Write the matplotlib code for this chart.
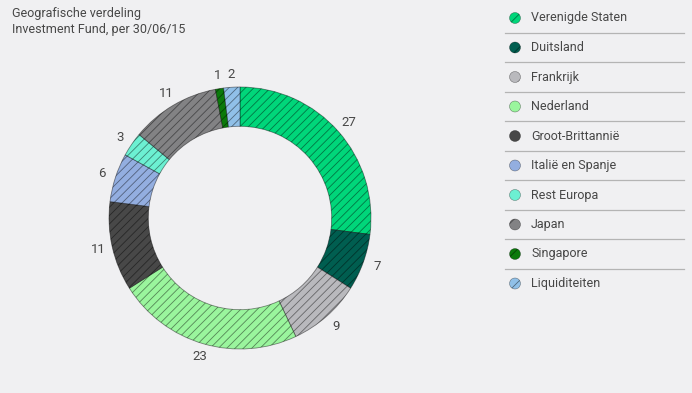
import numpy as np
import matplotlib.pyplot as plt
from matplotlib.patches import Circle

countries = ['Verenigde Staten', 'Duitsland', 'Frankrijk', 'Nederland',
             'Groot-Brittannië', 'Italië en Spanje', 'Rest Europa', 'Japan',
             'Singapore', 'Liquiditeiten']
values = [27, 7, 9, 23, 11, 6, 3, 11, 1, 2]
colors = ['#00d67a', '#005e50', '#b9b9bd', '#9af59d', '#484848',
          '#93aee0', '#6cf0d2', '#828284', '#0b7a0b', '#90c0e8']

bg = '#f0f0f2'
txt = '#474747'
plt.rcParams['font.family'] = ['Roboto', 'DejaVu Sans']
plt.rcParams['hatch.linewidth'] = 0.6

W, H = 692, 393
fig = plt.figure(figsize=(W / 100, H / 100), dpi=100)
fig.patch.set_facecolor(bg)

# donut: centre (240, 218) px, outer radius 131 px
cx, cy, r_px = 240, 218, 131
size = 320
ax = fig.add_axes([(cx - size / 2) / W, (H - cy - size / 2) / H, size / W, size / H])
ax.set_facecolor(bg)
wedges, _ = ax.pie(values, colors=colors, startangle=90, counterclock=False,
                   radius=1, wedgeprops=dict(width=0.3, edgecolor=(0, 0, 0, 0.45),
                                             linewidth=0.6, hatch='////'))
lim = size / 2 / r_px
ax.set_xlim(-lim, lim)
ax.set_ylim(-lim, lim)
ax.set_aspect('equal')
ax.axis('off')

# value labels outside the ring
total = sum(values)
cum = 0
for v in values:
    mid = (cum + v / 2) / total * 2 * np.pi
    cum += v
    x = 1.11 * np.sin(mid)
    y = 1.10 * np.cos(mid)
    ax.text(x, y, str(v), ha='center', va='center', fontsize=9.5, color=txt)

# overlay axes in pixel coordinates for title and legend
ov = fig.add_axes([0, 0, 1, 1])
ov.set_xlim(0, W)
ov.set_ylim(H, 0)
ov.axis('off')
ov.patch.set_alpha(0)

ov.text(12, 14, 'Geografische verdeling', fontsize=9, color=txt, va='center')
ov.text(12, 30, 'Investment Fund, per 30/06/15', fontsize=9, color=txt, va='center')

y0, dy = 18, 29.5
for i, (name, c) in enumerate(zip(countries, colors)):
    y = y0 + i * dy
    ov.add_patch(Circle((515, y), 5.5, facecolor=c, edgecolor=(0, 0, 0, 0.45),
                        linewidth=0.4, hatch='/'))
    ov.text(531, y, name, fontsize=9, color=txt, va='center')
    if i < len(countries) - 1:
        ov.plot([505, 684], [y + 14.5, y + 14.5], color='#b4b4b4', linewidth=0.9)

fig.savefig('out.png', dpi=100, facecolor=bg)
